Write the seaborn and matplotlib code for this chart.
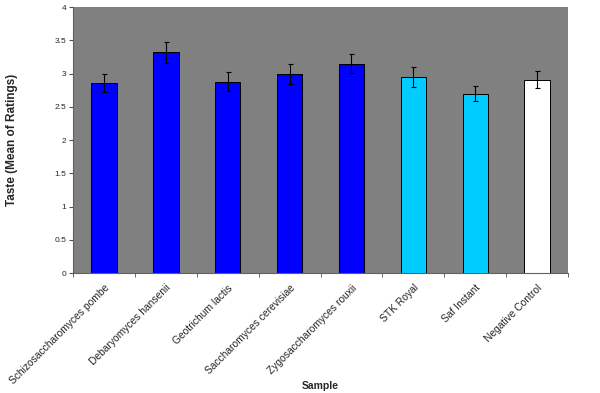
import numpy as np
import matplotlib
matplotlib.use('Agg')
import matplotlib.pyplot as plt
import seaborn as sns

sns.set_style('white')
plt.rcParams['font.family'] = ['Liberation Sans', 'DejaVu Sans']

SAMPLES = ['Schizosaccharomyces pombe', 'Debaryomyces hansenii', 'Geotrichum lactis',
           'Saccharomyces cerevisiae', 'Zygosaccharomyces rouxii', 'STK Royal',
           'Saf Instant', 'Negative Control']
TASTE   = [2.86, 3.32, 2.88, 3.00, 3.15, 2.95, 2.70, 2.91]
ERR     = [0.14, 0.16, 0.14, 0.15, 0.145, 0.15, 0.12, 0.13]
COLORS  = ['#0000ff'] * 5 + ['#00ccff', '#00ccff', '#ffffff']


fig = plt.figure(figsize=(6, 3.93), dpi=100)
ax = fig.add_axes([0.1217, 0.3053, 0.825, 0.6767])

sns.barplot(x=SAMPLES, y=TASTE, hue=SAMPLES, palette=COLORS, width=0.41,
            saturation=1, edgecolor='black', linewidth=0.7, legend=False, ax=ax)
ax.errorbar(np.arange(len(SAMPLES)), TASTE, yerr=ERR, fmt='none',
            ecolor='black', elinewidth=0.8, capsize=1.8, capthick=0.8)

ax.set_facecolor('#808080')
ax.set_xlim(-0.5, len(SAMPLES) - 0.5)
ax.set_ylim(0, 4)
ax.set_yticks(np.arange(0, 4.01, 0.5))
ax.set_yticklabels(['0', '0.5', '1', '1.5', '2', '2.5', '3', '3.5', '4'], fontsize=6)

ax.set_xticks(np.arange(len(SAMPLES)))
ax.set_xticklabels(SAMPLES, rotation=45, ha='right', rotation_mode='anchor', fontsize=7.4)
ax.set_xticks(np.arange(-0.5, len(SAMPLES)), minor=True)
ax.tick_params(axis='x', which='major', length=0, pad=7)
ax.tick_params(axis='x', which='minor', length=3, color='#505050', direction='out', bottom=True)
ax.tick_params(axis='y', length=3, color='#505050', direction='out', left=True, pad=2)

for side in ['top', 'right']:
    ax.spines[side].set_visible(False)
for side in ['left', 'bottom']:
    ax.spines[side].set_color('#606060')
    ax.spines[side].set_linewidth(0.8)

ax.set_xlabel('Sample', fontsize=7.5, fontweight='bold')
ax.xaxis.set_label_coords(0.5, -0.405)
ax.set_ylabel('Taste (Mean of Ratings)', fontsize=8.5, fontweight='bold')
ax.yaxis.set_label_coords(-0.112, 0.5)

fig.savefig('out.png', dpi=100)
